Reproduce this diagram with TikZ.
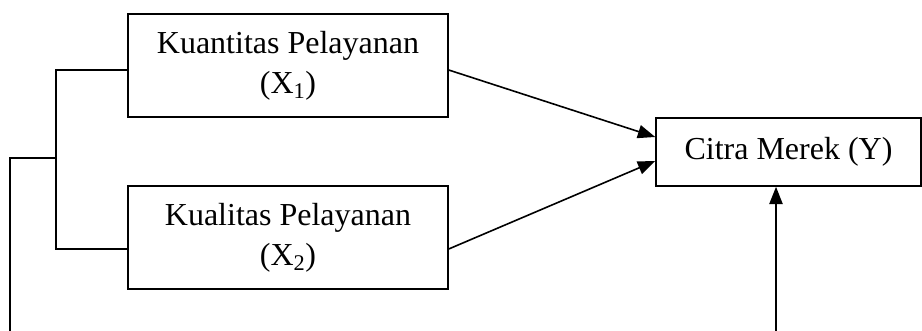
\documentclass[tikz,border=0pt]{standalone}
\usepackage{fontspec}
\setmainfont{Liberation Serif}
\usetikzlibrary{arrows.meta}
\begin{document}
\begin{tikzpicture}[x=0.75pt,y=-0.75pt,
  varbox/.style={draw,line width=1.2pt,inner sep=0pt,align=center,
    font=\fontsize{24}{30}\selectfont},
  conn/.style={line width=1.2pt},
  arr/.style={line width=1.2pt,-{Triangle[length=13pt,width=10pt]}}]
\useasboundingbox (0,0) rectangle (922,331);
\node[varbox,minimum width=240pt,minimum height=77.25pt] (b1) at (288,65.5)
  {Kuantitas Pelayanan\\(X\textsubscript{1})};
\node[varbox,minimum width=240pt,minimum height=77.25pt] (b2) at (288,237.5)
  {Kualitas Pelayanan\\(X\textsubscript{2})};
\node[varbox,minimum width=198.75pt,minimum height=51pt] (y) at (788.5,152)
  {Citra Merek (Y)};
\coordinate (br) at (56,158);
\coordinate (lb) at (10,331);
\coordinate (bot) at (776,331);
\draw[conn] ([yshift=-3.4pt]b1.west) -| (br) |- ([yshift=-8.6pt]b2.west);
\draw[conn] (lb) |- (br);
\draw[arr] ([yshift=-3.4pt]b1.east) -- ([yshift=11.25pt]y.west);
\draw[arr] ([yshift=-8.6pt]b2.east) -- ([yshift=-6.75pt]y.west);
\draw[arr] (bot) -- (bot |- y.south);
\end{tikzpicture}
\end{document}
